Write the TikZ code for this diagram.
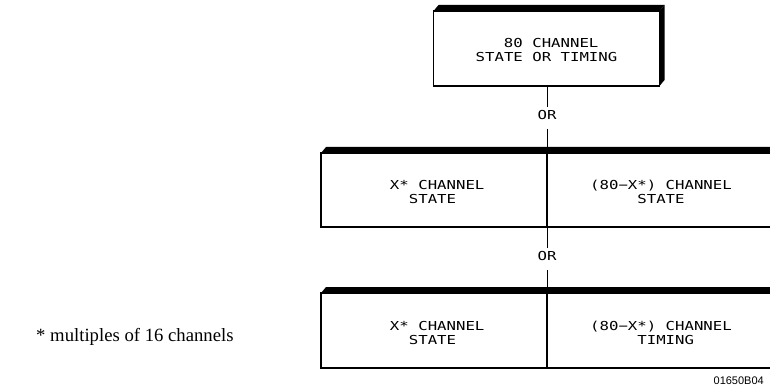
\documentclass[tikz,border=0pt]{standalone}
\usepackage{fontspec}
\setmainfont{Liberation Serif}
\newfontfamily\plotfont[FakeStretch=1.27]{DejaVu Sans Mono}
\newfontfamily\labfont{Liberation Sans}
\usetikzlibrary{calc}
\begin{document}
\begin{tikzpicture}[x=1pt,y=-1pt,
  face/.style={draw, line width=1.1pt, inner sep=0pt, outer sep=0pt, minimum width=226pt},
  ln/.style={font=\plotfont\fontsize{12.35pt}{14pt}\selectfont, anchor=base, inner sep=0pt},
  conn/.style={line width=1pt},
  band/.style={fill=black}]
\useasboundingbox (0,0) rectangle (770,387);
\clip (0,0) rectangle (770,387);

% top box
\node[face, minimum height=75pt] (top) at (546.5,48.5) {};
\fill[band] (top.north west) -- ++(5,-6) -- ($(top.north east)+(5,-6)$) -- (top.north east) -- cycle;
\fill[band] (top.north east) -- ++(5,-6) -- ($(top.south east)+(5,-6)$) -- (top.south east) -- cycle;
\node[ln] (t1) at (551.2,48) {80 CHANNEL};
\node[ln] (t2) at (546.5,62) {STATE OR TIMING};

% middle box
\node[face, minimum height=74pt] (mL) at (434,190) {};
\node[face, minimum height=74pt] (mR) at (660,190) {};
\fill[band] (mL.north west) -- ++(5,-6) -- ($(mR.north east)+(5,-6)$) -- (mR.north east) -- cycle;
\node[ln] (m1) at (437.2,190) {X* CHANNEL};
\node[ln] (m2) at (432.5,204) {STATE};
\node[ln] (m3) at (661,190) {(80−X*) CHANNEL};
\node[ln] (m4) at (661,204) {STATE};

% bottom box
\node[face, minimum height=75pt] (bL) at (434,330.5) {};
\node[face, minimum height=75pt] (bR) at (660,330.5) {};
\fill[band] (bL.north west) -- ++(5,-6) -- ($(bR.north east)+(5,-6)$) -- (bR.north east) -- cycle;
\node[ln] (b1) at (437.2,330.5) {X* CHANNEL};
\node[ln] (b2) at (432.5,344) {STATE};
\node[ln] (b3) at (661,330.5) {(80−X*) CHANNEL};
\node[ln] (b4) at (665.7,344) {TIMING};

% OR labels and connectors
\node[ln] (or1) at (547,119.5) {OR};
\node[ln] (or2) at (547,260.5) {OR};
\draw[conn] (top.south -| or1.base) -- ($(or1.base)+(0,-12.5)$);
\draw[conn] ($(or1.base)+(0,9.5)$) -- (mL.north east);
\draw[conn] (mL.south east) -- ($(or2.base)+(0,-12.5)$);
\draw[conn] ($(or2.base)+(0,9.5)$) -- (bL.north east);

% footnote and code
\node[font=\fontsize{18.7pt}{22pt}\selectfont, anchor=base west, inner sep=0pt] (note) at (36,341.5) {* multiples of 16 channels};
\node[font=\labfont\fontsize{11pt}{13pt}\selectfont, anchor=base east, inner sep=0pt] (code) at (764,384) {01650B04};
\end{tikzpicture}
\end{document}
